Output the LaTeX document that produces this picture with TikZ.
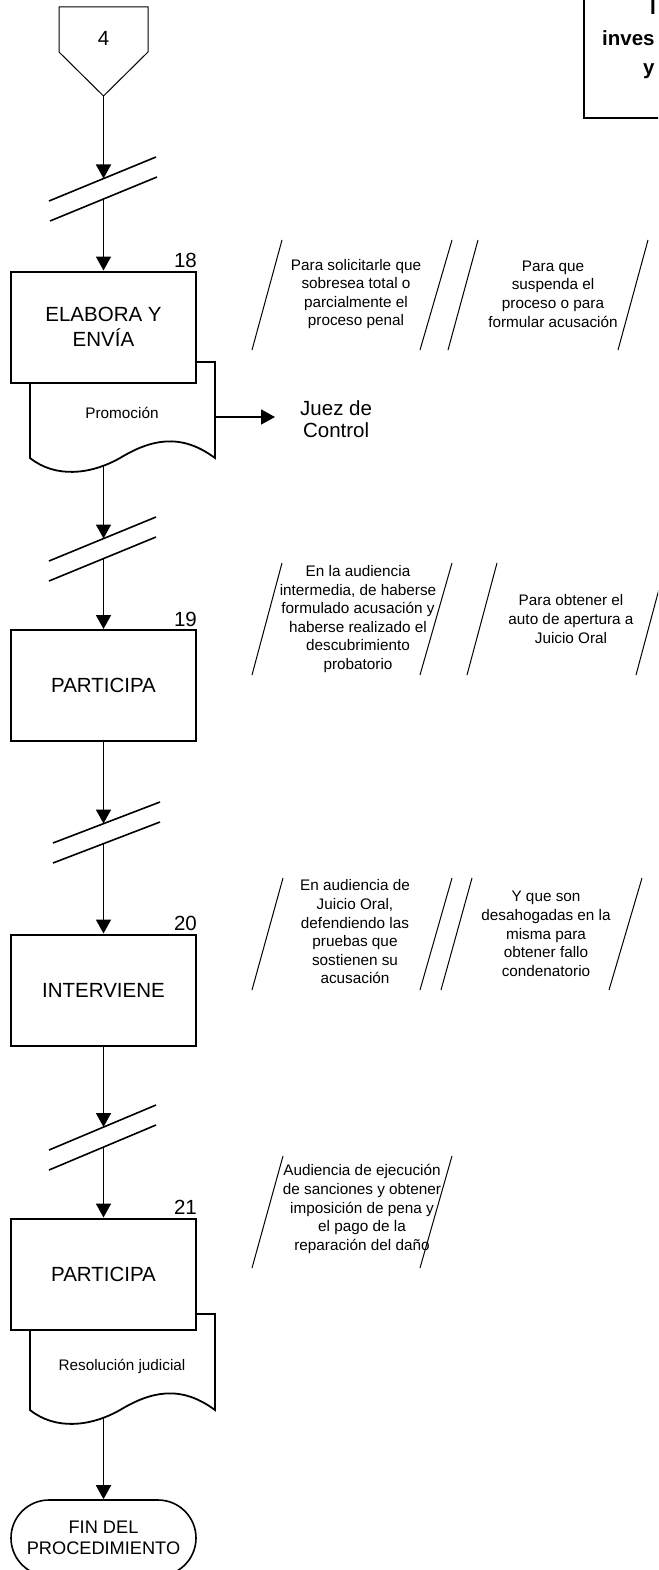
\documentclass[tikz,border=0pt]{standalone}
\usepackage{fontspec}
\setmainfont{Liberation Sans}
\usetikzlibrary{arrows.meta}
\begin{document}
\begin{tikzpicture}[x=1pt,y=-1pt,
  procbox/.style={draw, line width=2pt, fill=white, minimum width=185pt, minimum height=111pt, inner sep=0pt, align=center, font=\fontsize{20.5}{25}\selectfont},
  numlabel/.style={anchor=base east, inner sep=0pt, yshift=3pt, font=\fontsize{20.5}{24}\selectfont},
  flow/.style={line width=1.8pt, -{Triangle[length=14pt,width=15pt]}},
  brk/.style={line width=1.6pt},
  annot/.style={line width=1pt},
  annottext/.style={align=center, inner sep=0pt, font=\fontsize{15.3}{18.6}\selectfont},
  docline/.style={line width=1.8pt, fill=white},
  doctext/.style={inner sep=0pt, font=\fontsize{15.3}{18}\selectfont},
  terminal/.style={draw, line width=1.6pt, rounded corners=38pt, minimum width=185pt, minimum height=76pt, inner sep=0pt, align=center, font=\fontsize{18.2}{21}\selectfont},
  hdr/.style={anchor=base west, inner sep=0pt, font=\bfseries\fontsize{20.5}{24}\selectfont}
]
\useasboundingbox (0,0) rectangle (658,1570);
\clip (0,0) rectangle (658,1570);

% header box (cut by the page edge)
\draw[line width=2pt] (584,-10) -- (584,118) -- (670,118);
\node[hdr] (h1) at (650,15) {I};
\node[hdr] (h2) at (602,46) {inves};
\node[hdr] (h3) at (643,75) {y};

% off-page connector
\draw[line width=1pt] (59,7) -- (148,7) -- (148,52) -- (103.5,96) -- (59,52) -- cycle;
\node[font=\fontsize{20.5}{24}\selectfont] (off4) at (103.5,38) {4};
\coordinate (offtip) at (103.5,96);

% break 1
\draw[brk] (49,201) -- (156,157);
\draw[brk] (50,221) -- (157,177);
\coordinate (br1a) at (103.5,178.5);
\coordinate (br1b) at (103.5,198.5);

% document 18
\draw[docline] (30,362) -- (215,362) -- (215,458) .. controls (180,432) and (150,440) .. (120,458) .. controls (90,475) and (55,478) .. (30,458) -- cycle;
\node[doctext] (d18) at (122,413) {Promoción};
\coordinate (d18r) at (215,417);
\coordinate (d18b) at (103.5,466);

% box 18
\node[procbox] (b18) at (103.5,327) {ELABORA Y\\ENVÍA};
\node[numlabel] (n18) at (b18.north east) {18};

% Juez de Control
\node[anchor=west, inner xsep=25pt, inner ysep=0pt, align=center, font=\fontsize{20.5}{22.5}\selectfont] (jz) at (275,419) {Juez de\\Control};

% annotations 18
\draw[annot] (252,350) -- (282,240);
\draw[annot] (420,350) -- (452,240);
\draw[annot] (448,350) -- (478,240);
\draw[annot] (618,350) -- (648,240);
\node[annottext] (a18a) at (356,294) {Para solicitarle que\\sobresea total o\\parcialmente el\\proceso penal};
\node[annottext] (a18b) at (553,294) {Para que\\suspenda el\\proceso o para\\formular acusación};

% break 2
\draw[brk] (49,561) -- (156,517);
\draw[brk] (49,581) -- (156,537);
\coordinate (br2a) at (103.5,538.5);
\coordinate (br2b) at (103.5,558.5);

% box 19
\node[procbox] (b19) at (103.5,685.5) {PARTICIPA};
\node[numlabel] (n19) at (b19.north east) {19};

% annotations 19
\draw[annot] (252,675) -- (282,563);
\draw[annot] (420,675) -- (452,563);
\draw[annot] (467,675) -- (497,563);
\draw[annot] (636,675) -- (666,563);
\node[annottext] (a19a) at (358,619) {En la audiencia\\intermedia, de haberse\\formulado acusación y\\haberse realizado el\\descubrimiento\\probatorio};
\node[annottext] (a19b) at (571,619) {Para obtener el\\auto de apertura a\\Juicio Oral};

% break 3
\draw[brk] (53,843) -- (160,802);
\draw[brk] (53,863) -- (160,822);
\coordinate (br3a) at (103.5,823.5);
\coordinate (br3b) at (103.5,843.5);

% box 20
\node[procbox] (b20) at (103.5,990) {INTERVIENE};
\node[numlabel] (n20) at (b20.north east) {20};

% annotations 20
\draw[annot] (252,990) -- (283,878);
\draw[annot] (420,990) -- (452,878);
\draw[annot] (441,990) -- (472,878);
\draw[annot] (609,990) -- (642,878);
\node[annottext] (a20a) at (355,932) {En audiencia de\\Juicio Oral,\\defendiendo las\\pruebas que\\sostienen su\\acusación};
\node[annottext] (a20b) at (546,934) {Y que son\\desahogadas en la\\misma para\\obtener fallo\\condenatorio};

% break 4
\draw[brk] (49,1150) -- (156,1105);
\draw[brk] (49,1170) -- (156,1125);
\coordinate (br4a) at (103.5,1127);
\coordinate (br4b) at (103.5,1147);

% document 21
\draw[docline] (30,1314) -- (215,1314) -- (215,1410) .. controls (180,1384) and (150,1392) .. (120,1410) .. controls (90,1427) and (55,1430) .. (30,1410) -- cycle;
\node[doctext] (d21) at (122,1366) {Resolución judicial};
\coordinate (d21b) at (103.5,1418);

% box 21
\node[procbox] (b21) at (103.5,1274) {PARTICIPA};
\node[numlabel] (n21) at (b21.north east) {21};

% annotation 21
\draw[annot] (252,1268) -- (283,1156);
\draw[annot] (420,1268) -- (452,1156);
\node[annottext] (a21a) at (362,1209) {Audiencia de ejecución\\de sanciones y obtener\\imposición de pena y\\el pago de la\\reparación del daño};

% terminal
\node[terminal] (fin) at (103.5,1538) {FIN DEL\\PROCEDIMIENTO};

% connectors
\draw[flow] (offtip) -- (br1a);
\draw[flow] (br1b) -- (b18.north);
\draw[flow] (d18r) -- (d18r -| jz.west);
\draw[flow] (d18b) -- (br2a);
\draw[flow] (br2b) -- (b19.north);
\draw[flow] (b19.south) -- (br3a);
\draw[flow] (br3b) -- (b20.north);
\draw[flow] (b20.south) -- (br4a);
\draw[flow] (br4b) -- (b21.north);
\draw[flow] (d21b) -- (fin.north);
\end{tikzpicture}
\end{document}
